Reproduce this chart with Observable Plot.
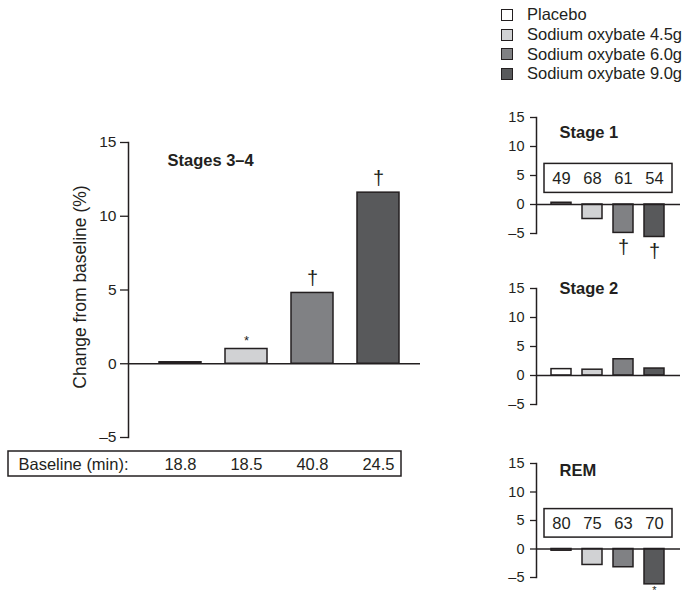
<!DOCTYPE html>
<html>
<head>
<meta charset="utf-8">
<script src="https://cdn.jsdelivr.net/npm/d3@7"></script>
<script src="https://cdn.jsdelivr.net/npm/@observablehq/plot@0.6"></script>
<style>
  body { margin: 0; background: #fff; font-family: "Liberation Sans", Arial, sans-serif; color: #231f20; }
  #root { position: relative; width: 684px; height: 595px; overflow: hidden; }
  .panel { position: absolute; overflow: visible; }
  .legend { position: absolute; left: 501px; top: 5px; font-size: 16.5px; }
  .legend .row { display: flex; align-items: center; height: 19.7px; }
  .legend .sw { width: 12px; height: 12px; border: 1.5px solid #231f20; margin-right: 14px; box-sizing: border-box; }
</style>
</head>
<body>
<div id="root"></div>
<script>
// ---------- data ----------
const groups = ["Placebo", "Sodium oxybate 4.5g", "Sodium oxybate 6.0g", "Sodium oxybate 9.0g"];
const colors = ["#ffffff", "#d1d2d4", "#808184", "#58595b"];

const stages34Values = [0.1, 1.0, 4.8, 11.6];
const stages34Sig = ["", "*", "†", "†"];
const stages34Baseline = ["18.8", "18.5", "40.8", "24.5"];

const stage1Values = [0.3, -2.5, -4.9, -5.6];
const stage1Sig = ["", "", "†", "†"];
const stage1Baseline = ["49", "68", "61", "54"];

const stage2Values = [1.1, 1.0, 2.8, 1.2];
const stage2Sig = ["", "", "", ""];

const remValues = [-0.3, -2.8, -3.2, -6.2];
const remSig = ["", "", "", "*"];
const remBaseline = ["80", "75", "63", "70"];

const yTicks = [-5, 0, 5, 10, 15];
const ink = "#231f20";
const font = "Liberation Sans, Arial, sans-serif";
const fs = 16.5;

const rows = (vals, sig, base) => groups.map((g, i) => ({group: g, value: vals[i], sig: sig[i], base: base ? base[i] : ""}));
const tickFmt = d => d < 0 ? "\u2013" + Math.abs(d) : String(d);

// a function mark drawing an outlined box from the plot's scales
function boxMark(rectFn) {
  return (index, scales, values, dims) => {
    const r = rectFn(scales, dims);
    return d3.create("svg:rect")
      .attr("x", r.x).attr("y", r.y).attr("width", r.w).attr("height", r.h)
      .attr("fill", "none").attr("stroke", ink).attr("stroke-width", 1.5)
      .node();
  };
}

const root = document.getElementById("root");
function place(el, left, top) {
  el.classList.add("panel");
  el.style.left = left + "px";
  el.style.top = top + "px";
  root.appendChild(el);
}

// ---------- legend ----------
const leg = document.createElement("div");
leg.className = "legend";
groups.forEach((g, i) => {
  const r = document.createElement("div"); r.className = "row";
  const s = document.createElement("div"); s.className = "sw"; s.style.background = colors[i];
  const t = document.createElement("span"); t.textContent = g;
  r.appendChild(s); r.appendChild(t); leg.appendChild(r);
});
root.appendChild(leg);

// ---------- main chart ----------
const mainData = rows(stages34Values, stages34Sig, stages34Baseline);
const main = Plot.plot({
  width: 430, height: 365,
  marginLeft: 128, marginRight: 10, marginTop: 22, marginBottom: 48,
  style: {fontFamily: font, fontSize: fs + "px", color: ink, background: "transparent"},
  x: {domain: groups, paddingInner: 0.368, paddingOuter: 0.38, align: 0.594, axis: null},
  y: {domain: [-5, 15], ticks: yTicks},
  color: {domain: groups, range: colors},
  marks: [
    Plot.axisY({ticks: yTicks, tickSize: 8, tickPadding: 4, label: null, fontSize: 15.5, tickFormat: tickFmt, strokeWidth: 1.3}),
    Plot.frame({anchor: "left", stroke: ink, strokeWidth: 1.5}),
    Plot.barY(mainData, {x: "group", y: "value", fill: "group", stroke: ink, strokeWidth: 1.5}),
    Plot.ruleY([0], {stroke: ink, strokeWidth: 1.5}),
    Plot.text(mainData.filter(d => d.sig === "†"), {x: "group", y: "value", text: "sig", dy: -14, fontSize: 20}),
    Plot.text(mainData.filter(d => d.sig === "*"), {x: "group", y: "value", text: "sig", dy: -8, fontSize: 13}),
    Plot.text(["Stages 3\u20134"], {frameAnchor: "top-left", dx: 39, dy: 18, textAnchor: "start", lineAnchor: "middle", fontWeight: "bold", fontSize: fs}),
    Plot.text(["Change from baseline (%)"], {frameAnchor: "left", rotate: -90, dx: -48, dy: -3, textAnchor: "middle", lineAnchor: "middle", fontSize: 17.5}),
    boxMark(({x}, d) => ({
      x: 8, y: d.height - d.marginBottom + 14,
      w: x(groups[3]) + x.bandwidth() + 2 - 8, h: 25
    })),
    Plot.text(["Baseline (min):"], {frameAnchor: "bottom-left", dx: -110, dy: 27, textAnchor: "start", lineAnchor: "middle", fontSize: fs}),
    Plot.text(mainData, {x: "group", frameAnchor: "bottom", text: "base", dy: 27, lineAnchor: "middle", fontSize: fs})
  ]
});
place(main, 0, 120);

// ---------- small panels ----------
function smallPanel({title, titleDy, data, top, height, marginBottom, box}) {
  const marks = [
    Plot.axisY({ticks: yTicks, tickSize: 6, tickPadding: 6, label: null, fontSize: 14.5, tickFormat: tickFmt, strokeWidth: 1.3}),
    Plot.frame({anchor: "left", stroke: ink, strokeWidth: 1.5}),
    Plot.barY(data, {x: "group", y: "value", fill: "group", stroke: ink, strokeWidth: 1.5}),
    Plot.ruleY([0], {stroke: ink, strokeWidth: 1.5}),
    Plot.text(data.filter(d => d.sig === "†"), {x: "group", y: "value", text: "sig", dy: 15, fontSize: 20}),
    Plot.text(data.filter(d => d.sig === "*"), {x: "group", y: "value", text: "sig", dy: 10, lineAnchor: "bottom", fontSize: 11}),
    Plot.text([title], {frameAnchor: "top-left", dx: 23, dy: titleDy, textAnchor: "start", lineAnchor: "middle", fontWeight: "bold", fontSize: fs})
  ];
  if (box) {
    marks.push(boxMark(({x, y}) => ({
      x: x(groups[0]) - 7, y: y(7),
      w: x(groups[3]) + x.bandwidth() + 8 - (x(groups[0]) - 7), h: y(2) - y(7)
    })));
    marks.push(Plot.text(data, {x: "group", y: 4.5, text: "base", fontSize: fs}));
  }
  const p = Plot.plot({
    width: 194, height,
    marginLeft: 46, marginRight: 4, marginTop: 17, marginBottom,
    style: {fontFamily: font, fontSize: fs + "px", color: ink, background: "transparent", overflow: "visible"},
    x: {domain: groups, paddingInner: 0.353, paddingOuter: 0.48, axis: null},
    y: {domain: [-5, 15], ticks: yTicks},
    color: {domain: groups, range: colors},
    marks
  });
  place(p, 490, top);
}

smallPanel({title: "Stage 1", titleDy: 15, data: rows(stage1Values, stage1Sig, stage1Baseline), top: 100, height: 168, marginBottom: 35, box: true});
smallPanel({title: "Stage 2", titleDy: 0, data: rows(stage2Values, stage2Sig), top: 271, height: 150, marginBottom: 17, box: false});
smallPanel({title: "REM", titleDy: 7, data: rows(remValues, remSig, remBaseline), top: 446, height: 149, marginBottom: 18, box: true});
</script>
</body>
</html>
